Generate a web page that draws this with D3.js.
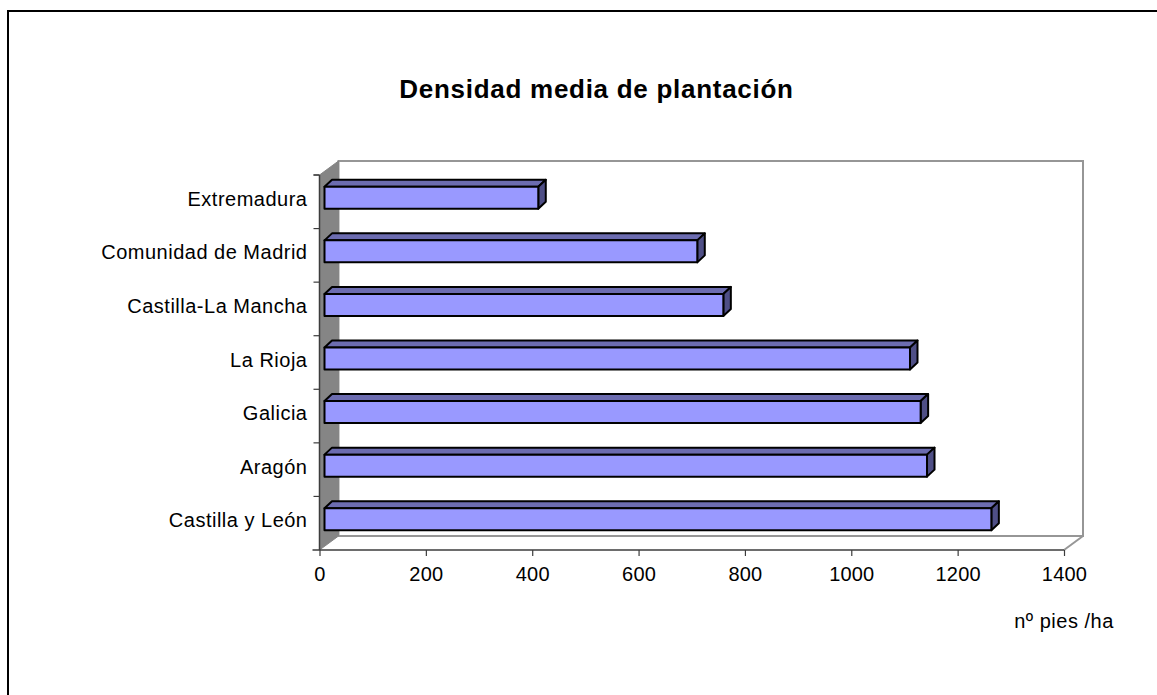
<!DOCTYPE html>
<html><head><meta charset="utf-8">
<script src="https://cdn.jsdelivr.net/npm/d3@7"></script>
<style>html,body{margin:0;padding:0;background:#fff}svg{display:block}text{font-family:"Liberation Sans",Arial,sans-serif;fill:#000}</style>
</head><body><div id="c"></div>
<script>
const categories = ["Castilla y León","Aragón","Galicia","La Rioja","Castilla-La Mancha","Comunidad de Madrid","Extremadura"];
const values = [1254,1133,1121,1101,750,701,402];
const xTicks = [0,200,400,600,800,1000,1200,1400];
const titleText = "Densidad media de plantación";
const unitText = "nº pies /ha";

const W=1157,H=695;
const svg=d3.select("#c").append("svg").attr("width",W).attr("height",H);
svg.append("path").attr("d","M8,695V11H1157").attr("fill","none").attr("stroke","#000").attr("stroke-width",2);
svg.append("text").attr("x",596.5).attr("y",98).attr("text-anchor","middle").attr("font-size",26).attr("letter-spacing",0.72).attr("font-weight","bold").text(titleText);

const x=d3.scaleLinear().domain([0,1400]).range([319.5,1064]);
const y=d3.scaleBand().domain(categories).range([550,175]);
const dx=19,dy=14;
const xL=x(0),xR=x(1400),yT=y.range()[1],yB=y.range()[0];
// back wall & floor
svg.append("path").attr("d",`M${xL+dx},${yT-dy}H${xR+dx}V${yB-dy}H${xL+dx}Z`).attr("fill","#fff").attr("stroke","#969696").attr("stroke-width",2);
svg.append("path").attr("d",`M${xR},${yB}L${xR+dx},${yB-dy}`).attr("fill","none").attr("stroke","#969696").attr("stroke-width",2);
svg.append("path").attr("d",`M${xL},${yT}L${xL+dx},${yT-dy}V${yB-dy}L${xL},${yB}Z`).attr("fill","#858585").attr("stroke","#858585");

// bars
const bx=5,bdx=7.5,bdy=7;
const bh=22;
const g=svg.selectAll("g.bar").data(categories).join("g").attr("class","bar");
const by=d=>y(d)+y.bandwidth()/2-bh/2-4;
const attrs=s=>s.attr("stroke","#000").attr("stroke-width",2).attr("stroke-linejoin","round");
g.each(function(d,i){
  const s=d3.select(this),x0=xL+bx,x1=x(values[i])+bx,t=by(d),b=t+bh;
  attrs(s.append("path").attr("d",`M${x0},${t}L${x0+bdx},${t-bdy}H${x1+bdx}L${x1},${t}Z`).attr("fill","#6c6cb0"));
  attrs(s.append("path").attr("d",`M${x1},${t}L${x1+bdx},${t-bdy}V${b-bdy}L${x1},${b}Z`).attr("fill","#4f4f86"));
  attrs(s.append("rect").attr("x",x0).attr("y",t).attr("width",x1-x0).attr("height",bh).attr("fill","#9999ff"));
});

// axes
const xa=svg.append("g").attr("transform",`translate(0,${yB})`).call(d3.axisBottom(x).tickValues(xTicks).tickSize(6).tickPadding(11).tickFormat(d3.format("d")));
xa.select(".domain").attr("stroke","#3c3c3c").attr("stroke-width",1.5).attr("d",`M${xL-7},0H${xR}`);
xa.selectAll("line").attr("stroke","#3c3c3c").attr("stroke-width",1.2);
xa.selectAll("text").attr("font-size",20).attr("letter-spacing",0.2).attr("font-family",null).attr("fill","#000");

const ya=svg.append("g").attr("transform",`translate(${xL},0)`).call(d3.axisLeft(y).tickSize(0).tickPadding(12));
ya.select(".domain").attr("stroke","#3c3c3c").attr("stroke-width",1.5).attr("d",`M0,${yT}V${yB}`);
ya.selectAll("text").attr("font-size",20).attr("letter-spacing",0.5).attr("font-family",null).attr("fill","#000").attr("dy","0.2em");
const edges=categories.map(d=>y(d)).concat([yT]);
svg.selectAll("line.cat").data(edges).join("line").attr("class","cat").attr("x1",xL-6).attr("x2",xL).attr("y1",d=>d).attr("y2",d=>d).attr("stroke","#3c3c3c").attr("stroke-width",1.2);

svg.append("text").attr("x",1064).attr("y",628).attr("text-anchor","middle").attr("font-size",20).attr("letter-spacing",0.5).text(unitText);
</script></body></html>
